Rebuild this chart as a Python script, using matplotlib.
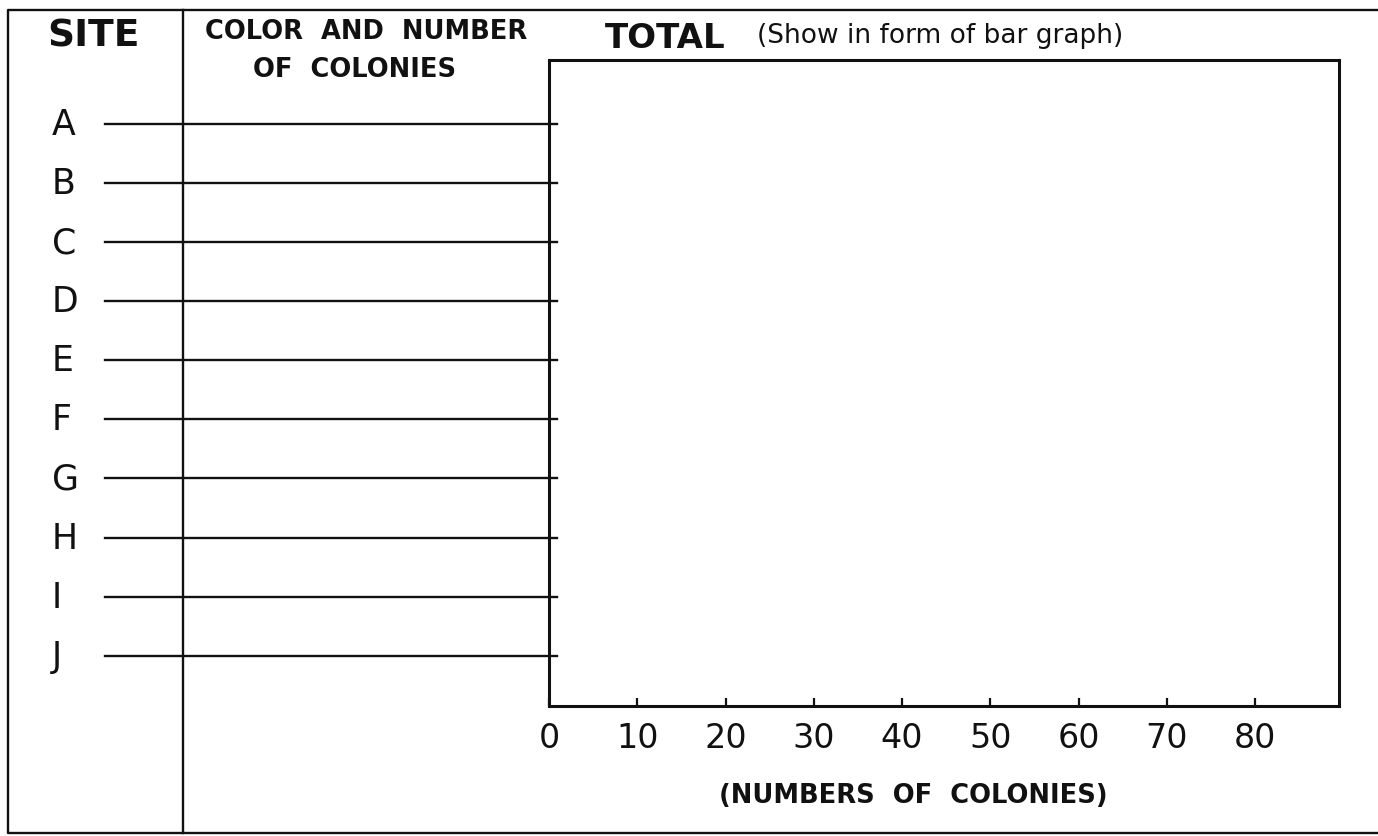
import matplotlib
matplotlib.use('Agg')
import matplotlib.pyplot as plt
from matplotlib.transforms import blended_transform_factory

# worksheet content
sites = ['A', 'B', 'C', 'D', 'E', 'F', 'G', 'H', 'I', 'J']
count_ticks = [0, 10, 20, 30, 40, 50, 60, 70, 80]
x_max = 89.5

W, H = 1378, 837
fig = plt.figure(figsize=(W / 100, H / 100), dpi=100)

# overlay in pixel units for the printed form frame
frame = fig.add_axes([0, 0, 1, 1])
frame.set_xlim(0, W)
frame.set_ylim(H, 0)
frame.axis('off')

ink = '#111111'
frame.plot([1390, 8, 8, 1390], [11, 11, 834, 834], color=ink, lw=1.7)
frame.plot([183, 183], [11, 834], color=ink, lw=1.7)

frame.text(93, 36, 'SITE', fontsize=27, fontweight='bold', ha='center', va='center', color=ink)
frame.text(205, 32, 'COLOR  AND  NUMBER', fontsize=18.5, fontweight='bold',
           ha='left', va='center', color=ink)
frame.text(253, 70, 'OF  COLONIES', fontsize=18.5, fontweight='bold',
           ha='left', va='center', color=ink)
frame.text(605, 38, 'TOTAL', fontsize=24.5, fontweight='bold', ha='left', va='center', color=ink)
frame.text(757, 36, '(Show in form of bar graph)', fontsize=19,
           ha='left', va='center', color=ink)
frame.text(913, 796, '(NUMBERS  OF  COLONIES)', fontsize=18.5, fontweight='bold',
           ha='center', va='center', color=ink)

# bar graph box
ax = fig.add_axes([549 / W, (H - 707) / H, 790 / W, 646 / H])
ax.set_xlim(0, x_max)
ax.set_ylim(len(sites) - 0.15, -1.08)
for sp in ax.spines.values():
    sp.set_linewidth(2.2)
    sp.set_color(ink)
ax.set_xticks(count_ticks)
ax.set_xticklabels([str(t) for t in count_ticks])
ax.set_yticks([])
ax.tick_params(axis='x', direction='in', length=6, width=1.6, pad=11, labelsize=24, colors=ink)

row = blended_transform_factory(fig.transFigure, ax.transData)
for i, s in enumerate(sites):
    ax.plot([105 / W, 557 / W], [i, i], color=ink, lw=1.7, transform=row, clip_on=False)
    ax.text(52 / W, i, s, fontsize=25, ha='left', va='center', transform=row, color=ink)

fig.savefig('out.png', dpi=100)
